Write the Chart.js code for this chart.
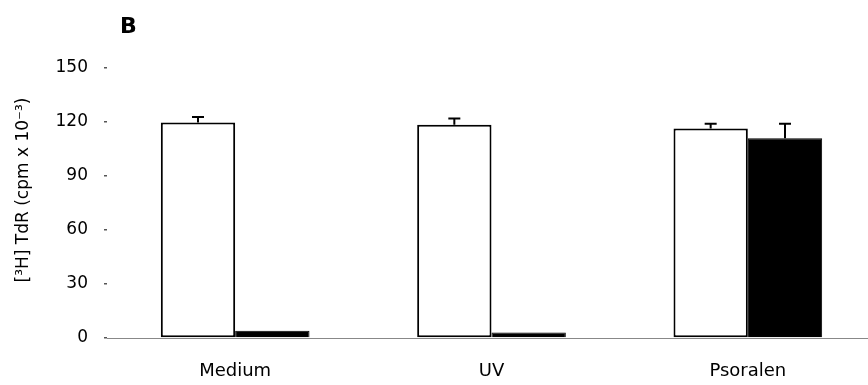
<!DOCTYPE html>
<html lang="en">
<head>
<meta charset="UTF-8" />
<title>[3H] TdR uptake - panel B</title>
<script src="https://cdn.jsdelivr.net/npm/chart.js"></script>
<style>
  html, body {
    margin: 0;
    padding: 0;
    background: #fff;
    overflow: hidden;
  }
  .wrap {
    position: relative;
    width: 876px;
    height: 385px;
  }
</style>
</head>
<body>
<div class="wrap">
  <canvas id="chart"></canvas>
</div>

<script>
  // data
  const categories = ['Medium', 'UV', 'Psoralen'];
  const openValues = [119.7, 118.5, 116.4];   // white bars
  const openErrTop = [122.8, 122, 119];
  const filledValues = [4, 3, 111];            // black bars
  const filledErrTop = [4, 3, 119];
  const yTicks = [0, 30, 60, 90, 120, 150];
  const yTitle = '[\u00B3H] TdR (cpm x 10\u207B\u00B3)';

  const font = "'DejaVu Sans', Arial, sans-serif";

  // error bars (upper whisker only) drawn from the scales
  const errorBars = {
    id: 'errorBars',
    afterDatasetsDraw(chart) {
      const ctx = chart.ctx;
      const y = chart.scales.y;
      const tops = [openErrTop, filledErrTop];
      ctx.save();
      ctx.strokeStyle = '#000';
      ctx.lineWidth = 2;
      tops.forEach((arr, di) => {
        const meta = chart.getDatasetMeta(di);
        meta.data.forEach((bar, i) => {
          const val = chart.data.datasets[di].data[i];
          if (arr[i] <= val) return;
          const yTop = y.getPixelForValue(arr[i]);
          const yBar = y.getPixelForValue(val);
          ctx.beginPath();
          ctx.moveTo(bar.x, yBar);
          ctx.lineTo(bar.x, yTop);
          ctx.moveTo(bar.x - 6, yTop);
          ctx.lineTo(bar.x + 6, yTop);
          ctx.stroke();
        });
      });
      ctx.restore();
    }
  };

  // panel letter + y title (title sits a little above the axis middle in the original)
  const texts = {
    id: 'texts',
    afterDraw(chart) {
      const ctx = chart.ctx;
      const area = chart.chartArea;
      ctx.save();
      ctx.fillStyle = '#000';
      ctx.font = 'bold 22px ' + font;
      ctx.textAlign = 'left';
      ctx.textBaseline = 'middle';
      ctx.fillText('B', area.left + 13, 27);

      ctx.font = '17px ' + font;
      ctx.textAlign = 'center';
      ctx.translate(24, (area.top + area.bottom) / 2 - 13);
      ctx.rotate(-Math.PI / 2);
      ctx.fillText(yTitle, 0, 0);
      ctx.restore();
    }
  };

  new Chart(document.getElementById('chart'), {
    type: 'bar',
    data: {
      labels: categories,
      datasets: [
        {
          data: openValues,
          backgroundColor: '#fff',
          borderColor: '#000',
          borderWidth: 2,
          borderSkipped: false
        },
        {
          data: filledValues,
          backgroundColor: '#000',
          borderColor: '#000',
          borderWidth: 1
        }
      ]
    },
    options: {
      responsive: true,
      maintainAspectRatio: false,
      animation: false,
      categoryPercentage: 0.58,
      barPercentage: 1,
      layout: { padding: { top: 68, bottom: 0, left: 0, right: 0 } },
      plugins: {
        legend: { display: false },
        tooltip: { enabled: false }
      },
      scales: {
        x: {
          grid: { display: false },
          border: { display: true, color: '#888', width: 1, dash: [7, 6] },
          ticks: { color: '#000', font: { family: font, size: 18 }, padding: 15 },
          afterFit(axis) { axis.height = 47; }
        },
        y: {
          min: 0,
          max: 150,
          afterBuildTicks(axis) {
            axis.ticks = yTicks.map(v => ({ value: v }));
          },
          afterFit(axis) { axis.width = 107; },
          grid: {
            drawOnChartArea: false,
            tickLength: 3,
            color: '#555',
            lineWidth: 1.5
          },
          border: { display: false },
          ticks: { color: '#000', font: { family: font, size: 17 }, padding: 16 }
        }
      }
    },
    plugins: [errorBars, texts]
  });
</script>
</body>
</html>
